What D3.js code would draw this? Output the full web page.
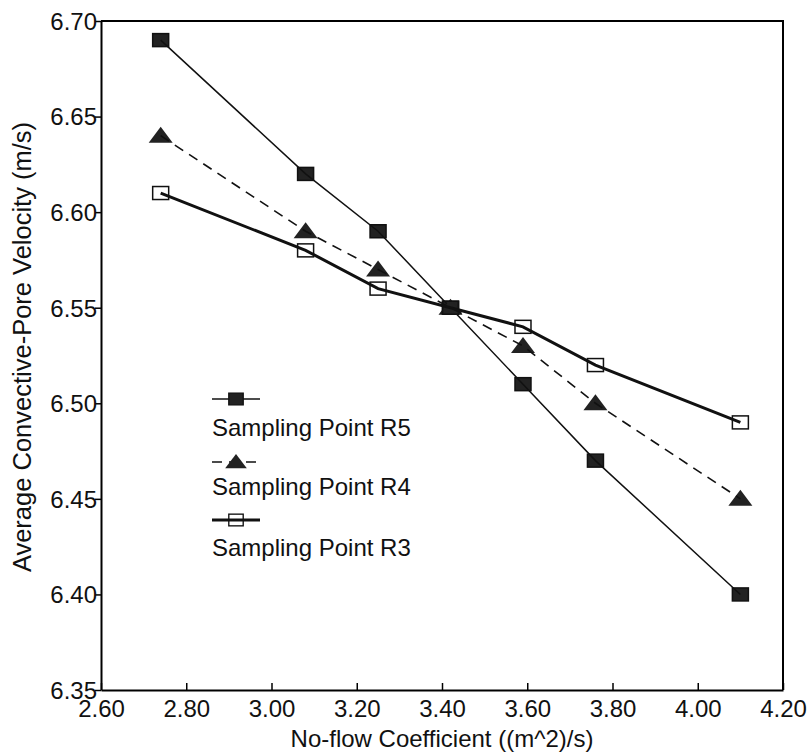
<!DOCTYPE html>
<html>
<head>
<meta charset="utf-8">
<script src="https://cdn.jsdelivr.net/npm/d3@7"></script>
<style>
  body { margin: 0; background: #fff; }
  svg { display: block; font-family: "Liberation Sans", Arial, sans-serif; }
</style>
</head>
<body>
<div id="chart"></div>
<script>
const coefficients = [2.74, 3.08, 3.25, 3.42, 3.59, 3.76, 4.10];
const velocityR5 = [6.69, 6.62, 6.59, 6.55, 6.51, 6.47, 6.40];
const velocityR4 = [6.64, 6.59, 6.57, 6.55, 6.53, 6.50, 6.45];
const velocityR3 = [6.61, 6.58, 6.56, 6.55, 6.54, 6.52, 6.49];
const xTicks = [2.6, 2.8, 3.0, 3.2, 3.4, 3.6, 3.8, 4.0, 4.2];
const yTicks = [6.35, 6.4, 6.45, 6.5, 6.55, 6.6, 6.65, 6.7];

const series = [
  { name: "Sampling Point R5", values: velocityR5, marker: "filledSquare", width: 1.5, dash: null },
  { name: "Sampling Point R4", values: velocityR4, marker: "triangle", width: 1.6, dash: "10,7" },
  { name: "Sampling Point R3", values: velocityR3, marker: "openSquare", width: 3, dash: null },
];

const width = 809;
const height = 755;
const margin = { top: 21, right: 26, bottom: 65, left: 101 };

const x = d3.scaleLinear().domain([2.6, 4.2]).range([margin.left, width - margin.right]);
const y = d3.scaleLinear().domain([6.35, 6.7]).range([height - margin.bottom, margin.top]);

const svg = d3.select("#chart").append("svg")
  .attr("width", width)
  .attr("height", height);

function drawMarker(g, type) {
  if (type === "triangle") {
    g.append("path")
      .attr("d", "M0,-9L12,7L-12,7Z")
      .attr("fill", "#222");
  } else {
    g.append("rect")
      .attr("x", -8).attr("y", -6.5)
      .attr("width", 16).attr("height", 13)
      .attr("fill", type === "filledSquare" ? "#222" : "none")
      .attr("stroke", "#111")
      .attr("stroke-width", 1.5);
  }
}

// axes
const gx = svg.append("g")
  .attr("transform", `translate(0,${height - margin.bottom})`)
  .call(d3.axisBottom(x).tickValues(xTicks).tickFormat(d3.format(".2f")).tickSizeInner(-7).tickSizeOuter(0).tickPadding(10))
  .attr("font-size", null)
  .attr("font-family", null);
gx.select(".domain").attr("stroke-width", 2);
gx.selectAll(".tick line").attr("stroke-width", 1.5);
gx.selectAll(".tick text").attr("font-size", 24).attr("fill", "#111").attr("dy", "0.7em");

const gy = svg.append("g")
  .attr("transform", `translate(${margin.left},0)`)
  .call(d3.axisLeft(y).tickValues(yTicks).tickFormat(d3.format(".2f")).tickSizeInner(6).tickSizeOuter(0).tickPadding(-2))
  .attr("font-size", null)
  .attr("font-family", null);
gy.select(".domain").attr("stroke-width", 2);
gy.selectAll(".tick line").attr("stroke-width", 1.5);
gy.selectAll(".tick text").attr("font-size", 24).attr("fill", "#111").attr("dy", "0.35em");

// top and right frame
svg.append("path")
  .attr("d", `M${margin.left},${margin.top}H${width - margin.right}V${height - margin.bottom}`)
  .attr("fill", "none")
  .attr("stroke", "#000")
  .attr("stroke-width", 2);

// axis titles
svg.append("text")
  .attr("x", (margin.left + width - margin.right) / 2)
  .attr("y", 747)
  .attr("text-anchor", "middle")
  .attr("font-size", 24)
  .attr("fill", "#111")
  .text("No-flow Coefficient ((m^2)/s)");

svg.append("text")
  .attr("transform", `translate(31,347) rotate(-90)`)
  .attr("text-anchor", "middle")
  .attr("font-size", 25.5)
  .attr("fill", "#111")
  .text("Average Convective-Pore Velocity (m/s)");

// lines and markers
const line = d3.line()
  .x((d, i) => x(coefficients[i]))
  .y((d) => y(d));

series.forEach((s) => {
  const g = svg.append("g");
  s.values.forEach((v, i) => {
    drawMarker(g.append("g").attr("transform", `translate(${x(coefficients[i])},${y(v)})`), s.marker);
  });
  g.append("path")
    .datum(s.values)
    .attr("d", line)
    .attr("fill", "none")
    .attr("stroke", "#111")
    .attr("stroke-width", s.width)
    .attr("stroke-dasharray", s.dash);
});

// legend
const legendX = 212;
const legendSymbolY = [399, 462, 520];
const legendTextY = [436, 495, 556];
series.forEach((s, i) => {
  const g = svg.append("g");
  g.append("line")
    .attr("x1", legendX).attr("x2", legendX + 48)
    .attr("y1", legendSymbolY[i]).attr("y2", legendSymbolY[i])
    .attr("stroke", "#111")
    .attr("stroke-width", s.width)
    .attr("stroke-dasharray", s.dash);
  drawMarker(g.append("g").attr("transform", `translate(${legendX + 24},${legendSymbolY[i]}) scale(0.9)`), s.marker);
  g.append("text")
    .attr("x", legendX)
    .attr("y", legendTextY[i])
    .attr("font-size", 24)
    .attr("fill", "#111")
    .text(s.name);
});
</script>
</body>
</html>
